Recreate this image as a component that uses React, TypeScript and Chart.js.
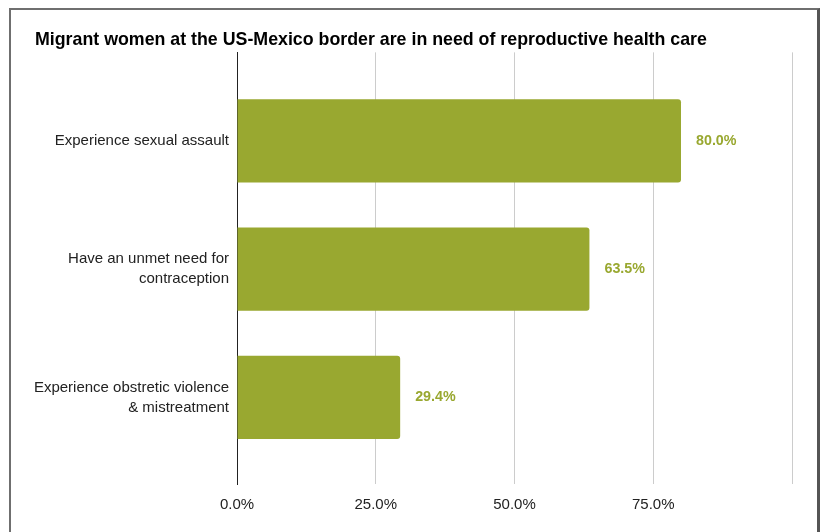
import React, { useEffect, useRef } from "react";
import { Chart, registerables } from "chart.js";

Chart.register(...registerables);

const TITLE = "Migrant women at the US-Mexico border are in need of reproductive health care";
const categories: string[][] = [
  ["Experience sexual assault"],
  ["Have an unmet need for", "contraception"],
  ["Experience obstretic violence", "& mistreatment"],
];
const values: number[] = [80.0, 63.5, 29.4];
const xTicks: number[] = [0, 25, 50, 75, 100];

const BAR_COLOR = "#99a830";
const FONT = "'Liberation Sans', Arial, sans-serif";

const valueLabels = {
  id: "valueLabels",
  afterDatasetsDraw(chart: any) {
    const ctx = chart.ctx;
    const meta = chart.getDatasetMeta(0);
    ctx.save();
    ctx.fillStyle = BAR_COLOR;
    ctx.font = `bold 14.3px ${FONT}`;
    ctx.textAlign = "left";
    ctx.textBaseline = "middle";
    meta.data.forEach((bar: any, i: number) => {
      ctx.fillText(values[i].toFixed(1) + "%", bar.x + 15, bar.y);
    });
    ctx.restore();
  },
};

export default function App() {
  const ref = useRef<HTMLCanvasElement | null>(null);
  useEffect(() => {
    if (!ref.current) return;
    const chart = new Chart(ref.current, {
      type: "bar",
      data: {
        datasets: [
          {
            data: values.map((v, i) => ({ x: v, y: i })) as any,
            backgroundColor: BAR_COLOR,
            borderRadius: 3,
            barPercentage: 0.65,
            categoryPercentage: 1,
          },
        ],
      },
      options: {
        indexAxis: "y",
        animation: false,
        responsive: false,
        layout: { padding: { left: 24, right: 25, top: 0, bottom: 0 } },
        plugins: {
          legend: { display: false },
          tooltip: { enabled: false },
          title: {
            display: true,
            text: TITLE,
            align: "start",
            color: "#000",
            font: { family: FONT, size: 17.8, weight: "bold", lineHeight: 1.2 },
            padding: { top: 19, bottom: 2 },
          },
        },
        scales: {
          x: {
            type: "linear",
            min: 0,
            max: 100,
            afterBuildTicks: (s: any) => {
              s.ticks = xTicks.map((v) => ({ value: v }));
            },
            afterFit: (s: any) => {
              s.height = 56;
            },
            grid: {
              drawTicks: false,
              color: (c: any) => (c.tick && c.tick.value === 0 ? "rgba(0,0,0,0)" : "#cccccc"),
              lineWidth: 1,
            },
            border: { display: false },
            ticks: {
              padding: 12,
              color: "#222",
              font: { family: FONT, size: 15 },
              callback: (v: any) => (v >= 100 ? "" : Number(v).toFixed(1) + "%"),
            },
          },
          y: {
            type: "linear",
            reverse: true,
            offset: false,
            grace: 0,
            min: -0.69,
            max: 2.675,
            afterBuildTicks: (s: any) => {
              s.ticks = categories.map((_, i) => ({ value: i }));
            },
            afterFit: (s: any) => {
              s.width = 202;
            },
            grid: { display: false, drawTicks: false, offset: false },
            border: { display: true, color: "#222", width: 1 },
            ticks: {
              padding: 8,
              color: "#222",
              autoSkip: false,
              font: { family: FONT, size: 15, lineHeight: 20 / 15 },
              callback: (v: any) => categories[Number(v)] ?? "",
            },
          },
        },
      },
      plugins: [valueLabels],
    });
    return () => chart.destroy();
  }, []);

  return (
    <div style={{ position: "fixed", inset: 0, overflow: "hidden", background: "#fff" }}>
      <div
        style={{
          position: "absolute",
          left: 9,
          top: 8,
          width: 806,
          height: 540,
          border: "2px solid #6f6f6f",
          borderRight: "3px solid #555",
          background: "#fff",
        }}
      >
        <canvas ref={ref} width={806} height={530} style={{ display: "block" }} />
      </div>
    </div>
  );
}
